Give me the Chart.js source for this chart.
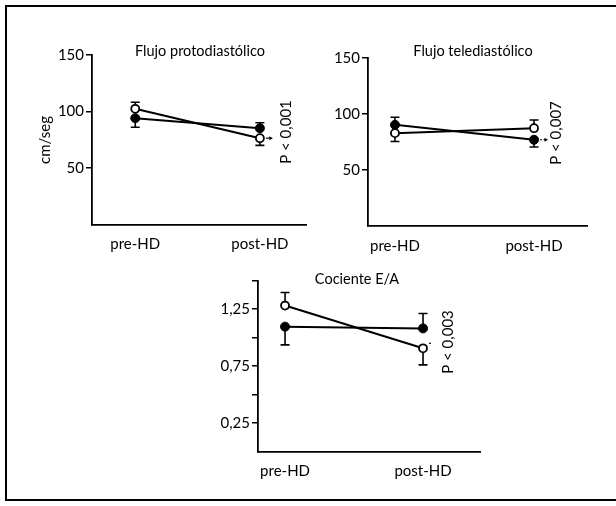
<!DOCTYPE html>
<html>
<head>
<meta charset="utf-8">
<script src="https://cdn.jsdelivr.net/npm/chart.js@4"></script>
<style>
  body { margin: 0; background: #fff; }
  #wrap { position: relative; width: 616px; height: 506px; overflow: hidden; }
  #frame { position: absolute; left: 5px; top: 5px; width: 620px; height: 492px;
           border-left: 2px solid #000; border-top: 2px solid #000; border-bottom: 2px solid #000; }
  canvas { position: absolute; }
</style>
</head>
<body>
<div id="wrap">
  <div id="frame"></div>
  <canvas id="proto" width="320" height="240" style="left:0px;top:30px"></canvas>
  <canvas id="tele" width="296" height="240" style="left:320px;top:30px"></canvas>
  <canvas id="ratio" width="320" height="230" style="left:180px;top:262px"></canvas>
</div>
<script>
const categories = ['pre-HD', 'post-HD'];

// Flujo protodiastólico (cm/seg)
const protoOpen = [102.4, 76.4];
const protoOpenErr = [5.8, -6.4];
const protoFilled = [94.1, 85.2];
const protoFilledErr = [-8, 4.8];

// Flujo telediastólico (cm/seg)
const teleOpen = [82.9, 87.3];
const teleOpenErr = [-7.4, 7.4];
const teleFilled = [90.3, 77];
const teleFilledErr = [6.8, -6.5];

// Cociente E/A
const ratioOpen = [1.28, 0.905];
const ratioOpenErr = [0.115, -0.145];
const ratioFilled = [1.095, 1.08];
const ratioFilledErr = [-0.16, 0.13];

const flowTicks = [50, 100, 150];
const flowTickLabels = ['50', '100', '150'];
const ratioTicks = [0.25, 0.5, 0.75, 1, 1.25, 1.5];
const ratioTickLabels = ['0,25', '', '0,75', '', '1,25', ''];

const FONT = 'Lato, "Open Sans", sans-serif';

const errorBars = {
  id: 'errorBars',
  beforeDatasetsDraw(chart) {
    const { ctx, scales: { x, y } } = chart;
    ctx.save();
    ctx.strokeStyle = '#000';
    ctx.lineWidth = 1.6;
    chart.data.datasets.forEach(ds => {
      ds.data.forEach((p, i) => {
        const px = x.getPixelForValue(p.x);
        const py = y.getPixelForValue(p.y);
        const pe = y.getPixelForValue(p.y + ds.errors[i]);
        ctx.beginPath();
        ctx.moveTo(px, py);
        ctx.lineTo(px, pe);
        ctx.moveTo(px - 4.5, pe);
        ctx.lineTo(px + 4.5, pe);
        ctx.stroke();
      });
    });
    ctx.restore();
  }
};

const notes = {
  id: 'notes',
  afterDraw(chart) {
    const { ctx } = chart;
    const o = chart.options.plugins.notes;
    const off = o.offset;
    ctx.save();
    ctx.fillStyle = '#000';
    ctx.font = '14.5px ' + FONT;
    ctx.textAlign = 'center';
    ctx.textBaseline = 'middle';
    ctx.fillText(o.title, o.titlePos[0] - off[0], o.titlePos[1] - off[1]);

    ctx.font = '15px ' + FONT;
    ctx.save();
    ctx.translate(o.pPos[0] - off[0], o.pPos[1] - off[1]);
    ctx.rotate(-Math.PI / 2);
    ctx.fillText(o.pText, 0, 0);
    ctx.restore();

    if (o.yLabel) {
      ctx.save();
      ctx.translate(o.yLabelPos[0] - off[0], o.yLabelPos[1] - off[1]);
      ctx.rotate(-Math.PI / 2);
      ctx.fillText(o.yLabel, 0, 0);
      ctx.restore();
    }

    // significance mark next to the post-HD point
    const meta = chart.getDatasetMeta(o.markSeries);
    const pt = meta.data[1];
    const x0 = pt.x + 6, y0 = pt.y + (o.markDy || 0);
    ctx.strokeStyle = '#000';
    ctx.lineWidth = 1.2;
    if (o.markDash) ctx.setLineDash([2, 1.5]);
    ctx.beginPath();
    ctx.moveTo(x0, y0);
    ctx.lineTo(x0 + o.markLen, y0);
    ctx.stroke();
    ctx.setLineDash([]);
    if (o.markArrow) {
      const xe = x0 + o.markLen;
      ctx.beginPath();
      ctx.moveTo(xe + 2, y0);
      ctx.lineTo(xe - 1.5, y0 - 2);
      ctx.lineTo(xe - 1.5, y0 + 2);
      ctx.closePath();
      ctx.fill();
    }
    ctx.restore();
  }
};

function makePanel(id, cfg) {
  const pts = vals => vals.map((v, i) => ({ x: i, y: v }));
  return new Chart(document.getElementById(id), {
    type: 'line',
    data: {
      datasets: [
        {
          label: 'open',
          data: pts(cfg.open),
          errors: cfg.openErr,
          borderColor: '#000',
          borderWidth: 2,
          pointRadius: 4,
          pointBorderWidth: 1.8,
          pointBackgroundColor: '#fff',
          pointBorderColor: '#000'
        },
        {
          label: 'filled',
          data: pts(cfg.filled),
          errors: cfg.filledErr,
          borderColor: '#000',
          borderWidth: 2,
          pointRadius: 4.5,
          pointBorderWidth: 1,
          pointBackgroundColor: '#000',
          pointBorderColor: '#000'
        }
      ]
    },
    options: {
      responsive: false,
      animation: false,
      layout: { padding: cfg.padding },
      plugins: {
        legend: { display: false },
        tooltip: { enabled: false },
        notes: cfg.notes
      },
      scales: {
        x: {
          type: 'linear',
          min: cfg.xMin,
          max: cfg.xMax,
          afterBuildTicks: s => { s.ticks = [{ value: 0 }, { value: 1 }]; },
          afterFit: s => { s.height = 40; },
          grid: { display: false },
          border: { display: true, color: '#000', width: 1.8 },
          ticks: {
            color: '#000',
            padding: 3,
            font: { family: FONT, size: 15 },
            callback: (v, i) => categories[i]
          }
        },
        y: {
          min: cfg.yMin,
          max: cfg.yMax,
          afterBuildTicks: s => { s.ticks = cfg.yTicks.map(v => ({ value: v })); },
          afterFit: s => { s.width = cfg.yWidth; },
          grid: {
            display: true,
            drawOnChartArea: false,
            drawTicks: true,
            tickLength: 6,
            color: '#000',
            lineWidth: 1.5
          },
          border: { display: true, color: '#000', width: 1.8 },
          ticks: {
            color: '#000',
            padding: 2,
            font: { family: FONT, size: 15 },
            callback: (v, i) => cfg.yLabels[i]
          }
        }
      }
    },
    plugins: [errorBars, notes]
  });
}

makePanel('proto', {
  open: protoOpen, openErr: protoOpenErr,
  filled: protoFilled, filledErr: protoFilledErr,
  xMin: -0.347, xMax: 1.37,
  yMin: 0, yMax: 150,
  yTicks: flowTicks, yLabels: flowTickLabels,
  yWidth: 92,
  padding: { top: 25, right: 14, bottom: 5.5, left: 0 },
  notes: {
    offset: [0, 30],
    title: 'Flujo protodiastólico', titlePos: [200, 51],
    pText: 'P < 0,001', pPos: [286, 132],
    yLabel: 'cm/seg', yLabelPos: [45, 140],
    markSeries: 0, markLen: 5, markArrow: true, markDash: false
  }
});

makePanel('tele', {
  open: teleOpen, openErr: teleOpenErr,
  filled: teleFilled, filledErr: teleFilledErr,
  xMin: -0.194, xMax: 1.381,
  yMin: 0, yMax: 150,
  yTicks: flowTicks, yLabels: flowTickLabels,
  yWidth: 48,
  padding: { top: 28, right: 29, bottom: 4, left: 0 },
  notes: {
    offset: [320, 30],
    title: 'Flujo telediastólico', titlePos: [473, 51],
    pText: 'P < 0,007', pPos: [556, 133],
    markSeries: 1, markLen: 6, markArrow: true, markDash: true
  }
});

makePanel('ratio', {
  open: ratioOpen, openErr: ratioOpenErr,
  filled: ratioFilled, filledErr: ratioFilledErr,
  xMin: -0.196, xMax: 1.413,
  yMin: 0, yMax: 1.5,
  yTicks: ratioTicks, yLabels: ratioTickLabels,
  yWidth: 78,
  padding: { top: 18.5, right: 20, bottom: 0.5, left: 0 },
  notes: {
    offset: [180, 262],
    title: 'Cociente E/A', titlePos: [357, 279],
    pText: 'P < 0,003', pPos: [448, 342],
    markSeries: 0, markLen: 2, markArrow: false, markDash: false, markDy: -5
  }
});
</script>
</body>
</html>
